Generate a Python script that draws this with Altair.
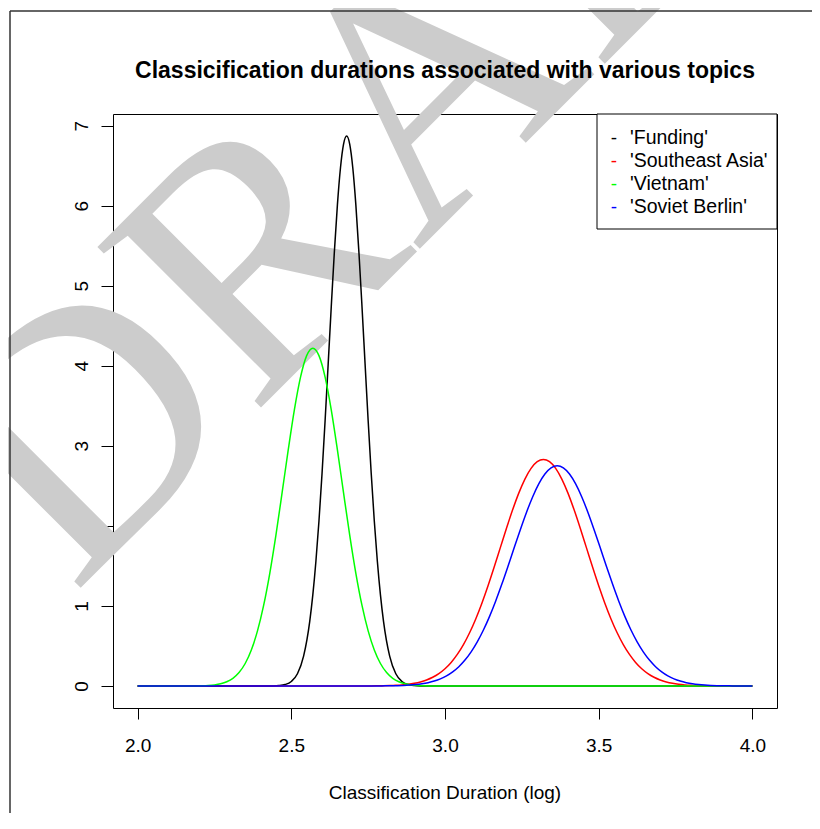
import altair as alt
import pandas as pd

TITLE = "Classicification durations associated with various topics"
X_TITLE = "Classification Duration (log)"
WATERMARK = "DRAFT"
series_names = ["'Funding'", "'Southeast Asia'", "'Vietnam'", "'Soviet Berlin'"]
series_colors = ["#000000", "#FF0000", "#00FF00", "#0000FF"]
x_ticks = [2.0, 2.5, 3.0, 3.5, 4.0]
y_ticks = [0, 1, 2, 3, 4, 5, 6, 7]

funding_x = [2.00, 2.40, 2.44, 2.46, 2.48, 2.50, 2.52, 2.54, 2.56, 2.57, 2.58, 2.59,
             2.60, 2.61, 2.62, 2.63, 2.64, 2.65, 2.66, 2.67, 2.68, 2.69, 2.70, 2.71,
             2.72, 2.73, 2.74, 2.75, 2.76, 2.77, 2.78, 2.79, 2.80, 2.82, 2.84, 2.86,
             2.88, 2.90, 2.92, 2.96, 4.00]
funding_y = [0, 0, 0.0013, 0.0052, 0.018, 0.056, 0.153, 0.373, 0.808, 1.138, 1.555, 2.061,
             2.654, 3.317, 4.024, 4.738, 5.416, 6.010, 6.474, 6.769, 6.870, 6.769, 6.474, 6.010,
             5.416, 4.738, 4.024, 3.317, 2.654, 2.061, 1.555, 1.138, 0.808, 0.373, 0.153, 0.056,
             0.018, 0.0052, 0.0013, 0, 0]

seasia_x = [2.00, 2.72, 2.74, 2.76, 2.78, 2.80, 2.82, 2.84, 2.86, 2.88, 2.90, 2.92, 2.94,
            2.96, 2.98, 3.00, 3.02, 3.04, 3.06, 3.08, 3.10, 3.12, 3.14, 3.16, 3.18, 3.20,
            3.22, 3.24, 3.26, 3.28, 3.30, 3.32, 3.34, 3.36, 3.38, 3.40, 3.42, 3.44, 3.46,
            3.48, 3.50, 3.52, 3.54, 3.56, 3.58, 3.60, 3.62, 3.64, 3.66, 3.68, 3.70, 3.72,
            3.74, 3.76, 3.78, 3.80, 3.82, 3.84, 3.86, 3.88, 3.90, 3.92, 4.00]
seasia_y = [0, 0.0003, 0.0006, 0.0011, 0.0018, 0.0032, 0.0053, 0.0086, 0.0138, 0.0217, 0.0335,
            0.0506, 0.0749, 0.1087, 0.1546, 0.2155, 0.2943, 0.3940, 0.5170, 0.6647, 0.8378,
            1.0349, 1.2528, 1.4865, 1.7286, 1.9702, 2.2006, 2.4093, 2.5850, 2.7184, 2.8017,
            2.830, 2.8017, 2.7184, 2.5850, 2.4093, 2.2006, 1.9702, 1.7286, 1.4865, 1.2528,
            1.0349, 0.8378, 0.6647, 0.5170, 0.3940, 0.2943, 0.2155, 0.1546, 0.1087, 0.0749,
            0.0506, 0.0335, 0.0217, 0.0138, 0.0086, 0.0053, 0.0032, 0.0018, 0.0011, 0.0006,
            0.0003, 0]

vietnam_x = [2.00, 2.17, 2.19, 2.21, 2.23, 2.25, 2.27, 2.29, 2.31, 2.33, 2.35, 2.37, 2.39,
             2.41, 2.43, 2.45, 2.47, 2.49, 2.51, 2.53, 2.55, 2.57, 2.59, 2.61, 2.63, 2.65,
             2.67, 2.69, 2.71, 2.73, 2.75, 2.77, 2.79, 2.81, 2.83, 2.85, 2.87, 2.89, 2.91,
             2.93, 2.95, 2.97, 4.00]
vietnam_y = [0, 0.0005, 0.0013, 0.0030, 0.0065, 0.0137, 0.0274, 0.0524, 0.0958, 0.1677,
             0.2809, 0.4495, 0.688, 1.006, 1.408, 1.885, 2.411, 2.949, 3.450, 3.858, 4.127,
             4.220, 4.127, 3.858, 3.450, 2.949, 2.411, 1.885, 1.408, 1.006, 0.688, 0.4495,
             0.2809, 0.1677, 0.0958, 0.0524, 0.0274, 0.0137, 0.0065, 0.0030, 0.0013, 0.0005, 0]

berlin_x = [2.000, 2.745, 2.765, 2.785, 2.805, 2.825, 2.845, 2.865, 2.885, 2.905, 2.925,
            2.945, 2.965, 2.985, 3.005, 3.025, 3.045, 3.065, 3.085, 3.105, 3.125, 3.145,
            3.165, 3.185, 3.205, 3.225, 3.245, 3.265, 3.285, 3.305, 3.325, 3.345, 3.365,
            3.385, 3.405, 3.425, 3.445, 3.465, 3.485, 3.505, 3.525, 3.545, 3.565, 3.585,
            3.605, 3.625, 3.645, 3.665, 3.685, 3.705, 3.725, 3.745, 3.765, 3.785, 3.805,
            3.825, 3.845, 3.865, 3.885, 3.905, 3.925, 3.945, 3.965, 3.985, 4.000]
berlin_y = [0, 0.0003, 0.0005, 0.0009, 0.0016, 0.0027, 0.0044, 0.0072, 0.0115, 0.0179,
            0.0275, 0.0414, 0.0612, 0.0887, 0.1261, 0.1760, 0.2409, 0.3235, 0.4262, 0.5509,
            0.6989, 0.8698, 1.0622, 1.2726, 1.4960, 1.7255, 1.9526, 2.1680, 2.3617, 2.5244,
            2.6473, 2.7240, 2.750, 2.7240, 2.6473, 2.5244, 2.3617, 2.1680, 1.9526, 1.7255,
            1.4960, 1.2726, 1.0622, 0.8698, 0.6989, 0.5509, 0.4262, 0.3235, 0.2409, 0.1760,
            0.1261, 0.0887, 0.0612, 0.0414, 0.0275, 0.0179, 0.0115, 0.0072, 0.0044, 0.0027,
            0.0016, 0.0009, 0.0005, 0.0003, 0]

series_x = [funding_x, seasia_x, vietnam_x, berlin_x]
series_y = [funding_y, seasia_y, vietnam_y, berlin_y]

W, H = 664, 594
FONT = "Liberation Sans"
one = pd.DataFrame({"k": [0]})

xs = alt.Scale(domain=[1.92, 4.08], nice=False, zero=False)
ys = alt.Scale(domain=[-0.275, 7.145], nice=False, zero=False)
x_axis = alt.Axis(values=x_ticks, format=".1f", tickSize=11, tickColor="black", tickWidth=1,
                  labelFont=FONT, labelFontSize=19, labelColor="black", labelPadding=17,
                  labelOverlap=False, labelFlush=False, labelBound=False,
                  domain=False, grid=False, title=None)
y_axis = alt.Axis(values=y_ticks, format="d", tickSize=12, tickColor="black", tickWidth=1,
                  labelFont=FONT, labelFontSize=19, labelColor="black", labelPadding=14,
                  labelAngle=270, labelAlign="center", labelBaseline="alphabetic",
                  labelOverlap=False, labelFlush=False, labelBound=False,
                  domain=False, grid=False, title=None)

layers = []

# watermark
layers.append(alt.Chart(one).mark_text(
    text=WATERMARK, font="Liberation Serif", fontSize=350, angle=315, color="#CCCCCC",
    align="center", baseline="middle").encode(x=alt.value(292), y=alt.value(1)))

# page border lines
layers.append(alt.Chart(one).mark_rule(color="#333333", strokeWidth=1.5).encode(
    x=alt.value(-103), x2=alt.value(700), y=alt.value(-103)))
layers.append(alt.Chart(one).mark_rule(color="#333333", strokeWidth=1.5).encode(
    x=alt.value(-103), y=alt.value(-103), y2=alt.value(700)))

for name, col, sx, sy in zip(series_names, series_colors, series_x, series_y):
    df = pd.DataFrame({"x": sx, "y": sy})
    layers.append(alt.Chart(df).mark_line(color=col, strokeWidth=1.5, interpolate="monotone").encode(
        x=alt.X("x:Q", scale=xs, axis=x_axis),
        y=alt.Y("y:Q", scale=ys, axis=y_axis)))

# legend
LEG_L, LEG_H = 484, 115
layers.append(alt.Chart(one).mark_rect(fill="white", stroke="black", strokeWidth=1).encode(
    x=alt.value(LEG_L), x2=alt.value(W), y=alt.value(0), y2=alt.value(LEG_H)))
row_y = [23.5, 46.5, 69.5, 92.5]
for name, col, ry in zip(series_names, series_colors, row_y):
    layers.append(alt.Chart(one).mark_text(text="-", font=FONT, fontSize=19, color=col,
                                           align="center", baseline="middle").encode(
        x=alt.value(501), y=alt.value(ry)))
    layers.append(alt.Chart(one).mark_text(text=name, font=FONT, fontSize=19.5, color="black",
                                           align="left", baseline="middle").encode(
        x=alt.value(517), y=alt.value(ry)))

# titles
layers.append(alt.Chart(one).mark_text(text=TITLE, font=FONT, fontSize=23, fontWeight="bold",
                                       color="black", align="center", baseline="alphabetic").encode(
    x=alt.value(W / 2), y=alt.value(-36)))
layers.append(alt.Chart(one).mark_text(text=X_TITLE, font=FONT, fontSize=19, color="black",
                                       align="center", baseline="alphabetic").encode(
    x=alt.value(W / 2), y=alt.value(685)))

chart = alt.layer(*layers).properties(
    width=W, height=H,
    autosize=alt.AutoSizeParams(type="none"),
    padding={"left": 105, "top": 106, "right": 35, "bottom": 105},
    background="white",
).configure_view(stroke="black", strokeWidth=1)

chart.save("out.html", embed_options={"renderer": "svg", "actions": False})
